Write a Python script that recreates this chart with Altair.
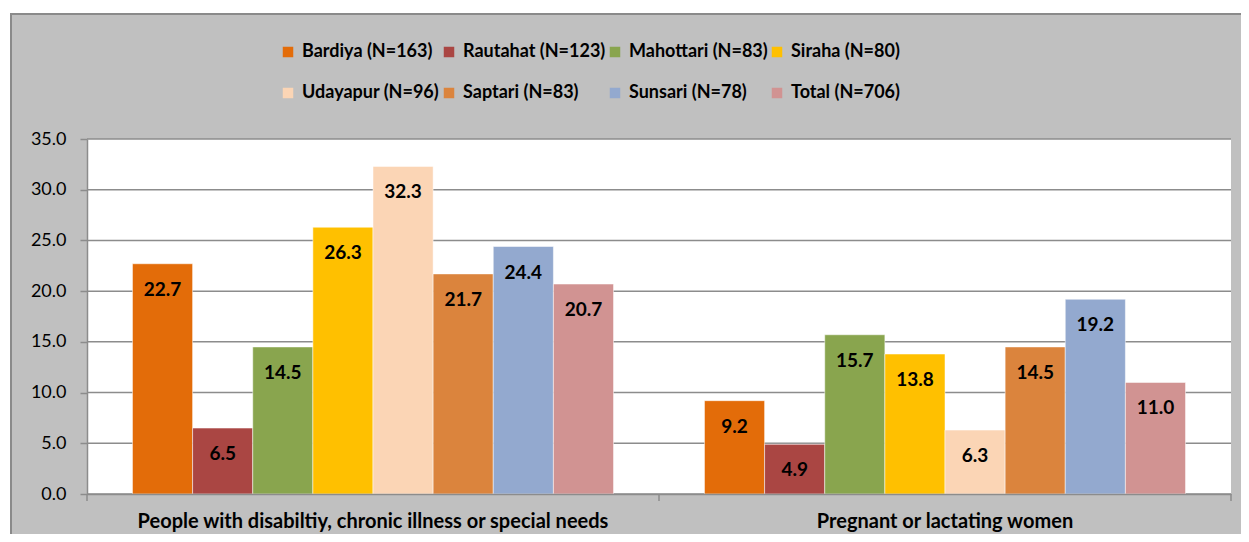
import altair as alt
import pandas as pd

categories = ["People with disabiltiy, chronic illness or special needs",
              "Pregnant or lactating women"]
districts = ["Bardiya (N=163)", "Rautahat (N=123)", "Mahottari (N=83)", "Siraha (N=80)",
             "Udayapur (N=96)", "Saptari (N=83)", "Sunsari (N=78)", "Total (N=706)"]
values_disability = [22.7, 6.5, 14.5, 26.3, 32.3, 21.7, 24.4, 20.7]
values_pregnant = [9.2, 4.9, 15.7, 13.8, 6.3, 14.5, 19.2, 11.0]
colors = ["#E36C09", "#AA4643", "#89A54E", "#FFC000",
          "#FBD5B5", "#DB843D", "#93A9CF", "#D19392"]
y_ticks = [0, 5, 10, 15, 20, 25, 30, 35]

rows = []
for d, v in zip(districts, values_disability):
    rows.append({"category": categories[0], "district": d, "value": v})
for d, v in zip(districts, values_pregnant):
    rows.append({"category": categories[1], "district": d, "value": v})
df = pd.DataFrame(rows)

W, H = 1144, 355
PAD_L, PAD_T, PAD_R, PAD_B = 79, 131, 10, 40
FONT = "Lato"
GRID = "#8c8c8c"
FS = 19

yscale = alt.Scale(domain=[0, 35], nice=False)
xscale = alt.Scale(domain=categories, paddingInner=0.159, paddingOuter=0.0795)
yaxis = alt.Axis(title=None, values=y_ticks, format=".1f", grid=False,
                 labelFont=FONT, labelFontSize=18, labelColor="black",
                 labelPadding=14, tickSize=7, tickColor=GRID, tickWidth=1.5,
                 domainColor=GRID, domainWidth=1.5, zindex=2)

one = pd.DataFrame({"a": [0]})

frame = alt.Chart(one).mark_rect(fill="#C0C0C0", stroke="#8a8a8a", strokeWidth=2).encode(
    x=alt.value(3 - PAD_L), x2=alt.value(W + 100),
    y=alt.value(6 - PAD_T), y2=alt.value(H + 200))

plotbg = alt.Chart(one).mark_rect(fill="white").encode(
    x=alt.value(0), x2=alt.value(W), y=alt.value(0), y2=alt.value(H))

grid = alt.Chart(pd.DataFrame({"t": y_ticks})).mark_rule(color=GRID, strokeWidth=1.5).encode(
    y=alt.Y("t:Q", scale=yscale, axis=yaxis))

cat_ticks = alt.Chart(pd.DataFrame({"p": [0, W / 2, W]})).mark_rule(color=GRID, strokeWidth=1.5).encode(
    x=alt.X("p:Q", scale=None, axis=None), y=alt.value(H), y2=alt.value(H + 7))

bars = alt.Chart(df).mark_bar(stroke="white", strokeWidth=0.5).encode(
    x=alt.X("category:N", scale=xscale, sort=categories,
            axis=alt.Axis(title=None, labelAngle=0, labelFont=FONT, labelFontSize=20,
                          labelFontWeight="bold", labelColor="black", labelPadding=17,
                          ticks=False, domainColor=GRID, domainWidth=1.5, grid=False,
                          zindex=2, labelLimit=800)),
    xOffset=alt.XOffset("district:N", sort=districts),
    y=alt.Y("value:Q", scale=yscale, axis=yaxis),
    color=alt.Color("district:N", sort=districts,
                    scale=alt.Scale(domain=districts, range=colors),
                    legend=alt.Legend(title=None, orient="none", columns=4,
                                      legendX=192, legendY=-96, direction="horizontal",
                                      symbolType="square", symbolSize=110,
                                      symbolStrokeWidth=0, labelFont=FONT,
                                      labelFontSize=18, labelFontWeight="bold",
                                      labelColor="black", labelOffset=5,
                                      columnPadding=0, rowPadding=23, padding=0,
                                      labelLimit=300, zindex=2)),
)

labels = alt.Chart(df).mark_text(dy=26, baseline="middle", align="center", font=FONT,
                                 fontSize=FS, fontWeight="bold", color="black").encode(
    x=alt.X("category:N", scale=xscale, sort=categories),
    xOffset=alt.XOffset("district:N", sort=districts),
    y=alt.Y("value:Q", scale=yscale),
    text=alt.Text("value:Q", format=".1f"),
)

chart = alt.layer(frame, plotbg, grid, bars, labels, cat_ticks).properties(
    width=W, height=H,
    autosize=alt.AutoSizeParams(type="none"),
    padding={"left": PAD_L, "top": PAD_T, "right": PAD_R, "bottom": PAD_B},
    background="white",
).configure_view(stroke=None)

chart.save("out.html", embed_options={"renderer": "svg", "actions": False})
